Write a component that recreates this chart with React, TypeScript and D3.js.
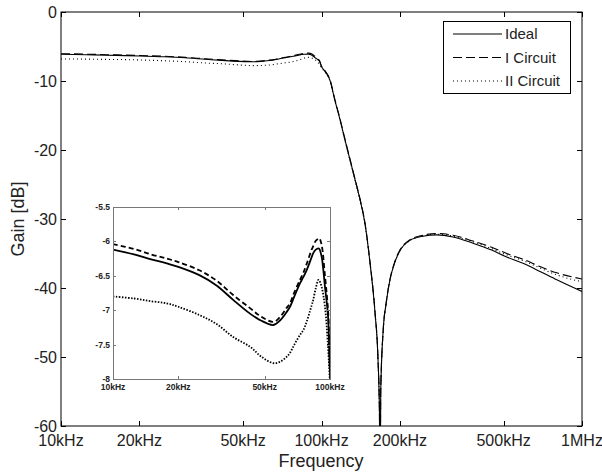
import React, { useEffect, useRef } from "react";
import * as d3 from "d3";

// frequency in kHz
const freqKHz = [
  10, 12.5, 15, 17.7, 20, 25, 30, 35.8, 42.8, 48, 54.8, 58.8, 63, 65.4, 68.5,
  72.7, 75.3, 78, 82.3, 83.7, 86, 88.4, 89.3, 91.5, 94.8, 97.3, 98.2, 100,
  103.1, 107.8, 112.4, 117.8, 123, 128.6, 134.5, 140.6, 146.9, 153.6, 160.5,
  164.8, 166.9, 167.7, 168.8, 172.6, 177, 183.2, 191.5, 200, 218.6, 245, 276.8,
  320, 381.5, 450, 514, 600, 690, 800, 1000,
];

const ideal = [
  -6.12, -6.19, -6.26, -6.32, -6.37, -6.49, -6.64, -6.85, -7.05, -7.15, -7.215,
  -7.15, -7.03, -6.95, -6.8, -6.61, -6.52, -6.42, -6.23, -6.17, -6.12, -6.1,
  -6.11, -6.22, -6.66, -6.98, -7.14, -7.9, -8.6, -9.9, -12.7, -15.6, -18.5,
  -21.4, -24.3, -27.2, -30.7, -36.4, -43.6, -50.4, -58, -75, -55, -46, -42.3,
  -38.8, -36.2, -34.6, -33.1, -32.5, -32.3, -32.6, -33.5, -34.5, -35.5, -36.5,
  -37.6, -38.8, -40.5,
];

const circuitI = [
  -6.04, -6.11, -6.19, -6.25, -6.3, -6.42, -6.57, -6.78, -6.97, -7.09, -7.17,
  -7.1, -6.97, -6.9, -6.74, -6.56, -6.46, -6.33, -6.12, -6.07, -5.99, -5.96,
  -5.955, -6.05, -6.5, -6.88, -7.05, -7.85, -8.5, -9.8, -12.6, -15.5, -18.4,
  -21.3, -24.2, -27.1, -30.6, -36.3, -43.5, -50.3, -58, -75, -55, -46, -42.2,
  -38.7, -36.1, -34.5, -33.0, -32.35, -32.1, -32.35, -33.2, -34.1, -35.0, -35.9,
  -36.9, -37.8, -38.7,
];

const circuitII = [
  -6.8, -6.83, -6.87, -6.9, -6.95, -7.07, -7.2, -7.39, -7.53, -7.67, -7.77,
  -7.75, -7.68, -7.62, -7.5, -7.36, -7.29, -7.17, -6.93, -6.85, -6.68, -6.56,
  -6.57, -6.66, -6.95, -7.39, -7.6, -8.05, -8.7, -10.0, -12.8, -15.7, -18.6,
  -21.5, -24.4, -27.3, -30.8, -36.5, -43.7, -50.5, -58, -75, -55, -46.1, -42.3,
  -38.8, -36.2, -34.6, -33.1, -32.45, -32.2, -32.5, -33.3, -34.3, -35.2, -36.1,
  -37.1, -38.1, -39.1,
];

const seriesNames = ["Ideal", "I Circuit", "II Circuit"];

const xTicks = [10, 20, 50, 100, 200, 500, 1000];
const xTickLabels = ["10kHz", "20kHz", "50kHz", "100kHz", "200kHz", "500kHz", "1MHz"];
const yTicks = [0, -10, -20, -30, -40, -50, -60];

const insetXTicks = [10, 20, 50, 100];
const insetXLabels = ["10kHz", "20kHz", "50kHz", "100kHz"];
const insetYTicks = [-5.5, -6, -6.5, -7, -7.5, -8];

const FONT = "'Liberation Sans', Arial, sans-serif";

const App = () => {
  const svgRef = useRef<SVGSVGElement>(null);

  useEffect(() => {
    document.body.style.margin = "0";
    const svg = d3.select(svgRef.current);
    svg.selectAll("*").remove();

    const left = 61, right = 582, top = 12, bottom = 426;
    const x = d3.scaleLog().domain([10, 1000]).range([left, right]);
    const y = d3.scaleLinear().domain([-60, 0]).range([bottom, top]);

    const series = [ideal, circuitI, circuitII];
    const mainDash = [null, "9,4", "1,3"];
    const insetDash = [null, "5,3", "1.5,1.5"];

    const defs = svg.append("defs");
    defs.append("clipPath").attr("id", "main-clip")
      .append("rect").attr("x", left).attr("y", top)
      .attr("width", right - left).attr("height", bottom - top);

    svg.append("rect").attr("width", 602).attr("height", 475).attr("fill", "white");

    // main curves
    const line = d3.line<number>()
      .x((d, i) => x(freqKHz[i]))
      .y(d => y(d))
      .curve(d3.curveMonotoneX);

    const curves = svg.append("g").attr("clip-path", "url(#main-clip)");
    series.forEach((s, k) => {
      curves.append("path")
        .attr("d", line(s))
        .attr("fill", "none")
        .attr("stroke", "black")
        .attr("stroke-width", 1.1)
        .attr("stroke-dasharray", mainDash[k]);
    });

    // frame + ticks
    svg.append("rect")
      .attr("x", left).attr("y", top)
      .attr("width", right - left).attr("height", bottom - top)
      .attr("fill", "none").attr("stroke", "black");

    const tl = 5;
    xTicks.forEach((t, i) => {
      const xp = Math.round(x(t)) + 0.5;
      svg.append("line").attr("x1", xp).attr("x2", xp).attr("y1", bottom).attr("y2", bottom - tl).attr("stroke", "black");
      svg.append("line").attr("x1", xp).attr("x2", xp).attr("y1", top).attr("y2", top + tl).attr("stroke", "black");
      svg.append("text")
        .attr("x", x(t)).attr("y", 446)
        .attr("text-anchor", "middle")
        .attr("font-family", FONT).attr("font-size", 16).attr("fill", "#222")
        .text(xTickLabels[i]);
    });
    yTicks.forEach(t => {
      const yp = Math.round(y(t)) + 0.5;
      svg.append("line").attr("x1", left).attr("x2", left + tl).attr("y1", yp).attr("y2", yp).attr("stroke", "black");
      svg.append("line").attr("x1", right).attr("x2", right - tl).attr("y1", yp).attr("y2", yp).attr("stroke", "black");
      svg.append("text")
        .attr("x", 57).attr("y", y(t) + 6)
        .attr("text-anchor", "end")
        .attr("font-family", FONT).attr("font-size", 16).attr("fill", "#222")
        .text(String(t));
    });

    svg.append("text")
      .attr("x", 321).attr("y", 467)
      .attr("text-anchor", "middle")
      .attr("font-family", FONT).attr("font-size", 18).attr("fill", "#222")
      .text("Frequency");
    svg.append("text")
      .attr("transform", `translate(24,${(top + bottom) / 2}) rotate(-90)`)
      .attr("text-anchor", "middle")
      .attr("font-family", FONT).attr("font-size", 18).attr("fill", "#222")
      .text("Gain [dB]");

    // legend
    const lg = svg.append("g");
    lg.append("rect").attr("x", 443.5).attr("y", 21.5).attr("width", 127).attr("height", 72)
      .attr("fill", "white").attr("stroke", "black");
    seriesNames.forEach((name, k) => {
      const ly = 34 + k * 23.5;
      lg.append("line").attr("x1", 453).attr("x2", 502).attr("y1", ly).attr("y2", ly)
        .attr("stroke", "black").attr("stroke-width", 1.1)
        .attr("stroke-dasharray", mainDash[k]);
      lg.append("text").attr("x", 505).attr("y", ly + 5)
        .attr("font-family", FONT).attr("font-size", 15).attr("fill", "#222")
        .text(name);
    });

    // inset
    const il = 113, ir = 330, it = 207, ib = 379;
    const xi = d3.scaleLog().domain([10, 100]).range([il, ir]);
    const yi = d3.scaleLinear().domain([-8, -5.5]).range([ib, it]);
    defs.append("clipPath").attr("id", "inset-clip")
      .append("rect").attr("x", il).attr("y", it)
      .attr("width", ir - il).attr("height", ib - it);

    svg.append("rect").attr("x", il).attr("y", it).attr("width", ir - il).attr("height", ib - it)
      .attr("fill", "white");

    const insetLine = d3.line<number>()
      .x((d, i) => xi(freqKHz[i]))
      .y(d => yi(d))
      .curve(d3.curveCatmullRom.alpha(0.5));
    const nIn = freqKHz.filter(f => f <= 104).length;

    const ig = svg.append("g").attr("clip-path", "url(#inset-clip)");
    series.forEach((s, k) => {
      ig.append("path")
        .attr("d", insetLine(s.slice(0, nIn)))
        .attr("fill", "none")
        .attr("stroke", "black")
        .attr("stroke-width", 1.8)
        .attr("stroke-dasharray", insetDash[k]);
    });

    svg.append("rect").attr("x", il + 0.5).attr("y", it + 0.5)
      .attr("width", ir - il).attr("height", ib - it)
      .attr("fill", "none").attr("stroke", "#777");

    insetXTicks.forEach((t, i) => {
      const xp = Math.round(xi(t)) + 0.5;
      svg.append("line").attr("x1", xp).attr("x2", xp).attr("y1", ib).attr("y2", ib - 3).attr("stroke", "#777");
      svg.append("line").attr("x1", xp).attr("x2", xp).attr("y1", it).attr("y2", it + 3).attr("stroke", "#777");
      svg.append("text")
        .attr("x", xi(t)).attr("y", 390)
        .attr("text-anchor", "middle")
        .attr("font-family", FONT).attr("font-size", 8.5).attr("font-weight", "bold").attr("fill", "#222")
        .text(insetXLabels[i]);
    });
    insetYTicks.forEach(t => {
      const yp = Math.round(yi(t)) + 0.5;
      svg.append("line").attr("x1", il).attr("x2", il + 3).attr("y1", yp).attr("y2", yp).attr("stroke", "#777");
      svg.append("line").attr("x1", ir).attr("x2", ir - 3).attr("y1", yp).attr("y2", yp).attr("stroke", "#777");
      svg.append("text")
        .attr("x", 110).attr("y", yi(t) + 3)
        .attr("text-anchor", "end")
        .attr("font-family", FONT).attr("font-size", 8.5).attr("font-weight", "bold").attr("fill", "#222")
        .text(String(t));
    });
  }, []);

  return <svg ref={svgRef} width={602} height={475} style={{ display: "block" }} />;
};

export default App;
